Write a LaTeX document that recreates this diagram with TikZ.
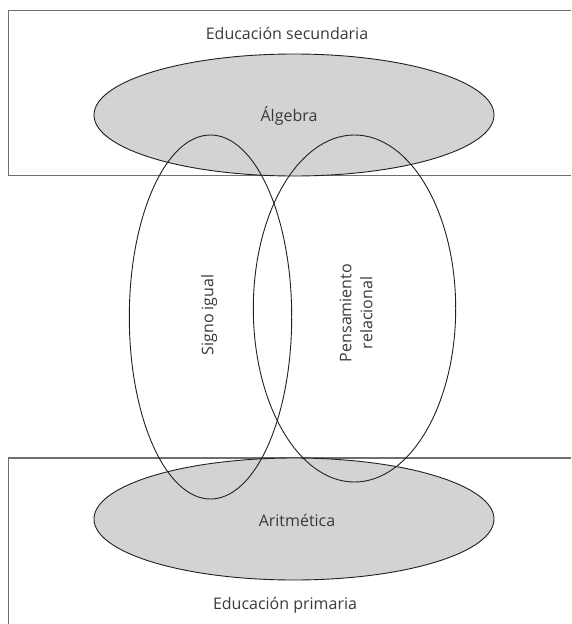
\documentclass[tikz,border=0pt]{standalone}
\usepackage{fontspec}
\setmainfont{Open Sans}
\usetikzlibrary{shapes.geometric}
\definecolor{boxline}{HTML}{6D6E70}
\definecolor{ellline}{HTML}{231F20}
\definecolor{ellfill}{HTML}{D1D3D4}
\definecolor{txt}{HTML}{3A3A3A}
\tikzset{
  zone/.style={draw=boxline, line width=1.2pt},
  fieldell/.style={ellipse, draw=ellline, fill=ellfill, line width=0.9pt, inner sep=0pt},
  conceptell/.style={ellipse, draw=ellline, line width=0.9pt, inner sep=0pt},
  lab/.style={text=txt, font=\fontsize{16}{21}\selectfont, inner sep=0pt},
}
\begin{document}
\begin{tikzpicture}[x=1pt,y=-1pt]
\useasboundingbox (0,0) rectangle (571,624);
% zones
\draw[zone] (571,10.7) -- (8.7,10.7) -- (8.7,175.7) -- (571,175.7);
\draw[zone] (571,458) -- (8.7,458) -- (8.7,624);
% field ellipses
\node[fieldell, minimum width=400pt, minimum height=122pt] (alg) at (294,115) {};
\node[fieldell, minimum width=400pt, minimum height=122pt] (arit) at (294,519) {};
% concept ellipses
\node[conceptell, minimum width=162.4pt, minimum height=364pt] (signo) at (210.5,317) {};
\node[conceptell, minimum width=202.4pt, minimum height=347pt] (pens) at (354.5,308.5) {};
% labels
\node[lab, anchor=base] (tsec) at (287,39.3) {Educación secundaria};
\node[lab, anchor=base] (talg) at (289,121.5) {Álgebra};
\node[lab, anchor=base] (tarit) at (297,526.7) {Aritmética};
\node[lab, anchor=base] (tprim) at (285,609.3) {Educación primaria};
\node[lab, rotate=90] (tsig) at (209.3,315) {Signo igual};
\node[lab, rotate=90, align=center] (tpens) at (356,313) {Pensamiento\\relacional};
\end{tikzpicture}
\end{document}
